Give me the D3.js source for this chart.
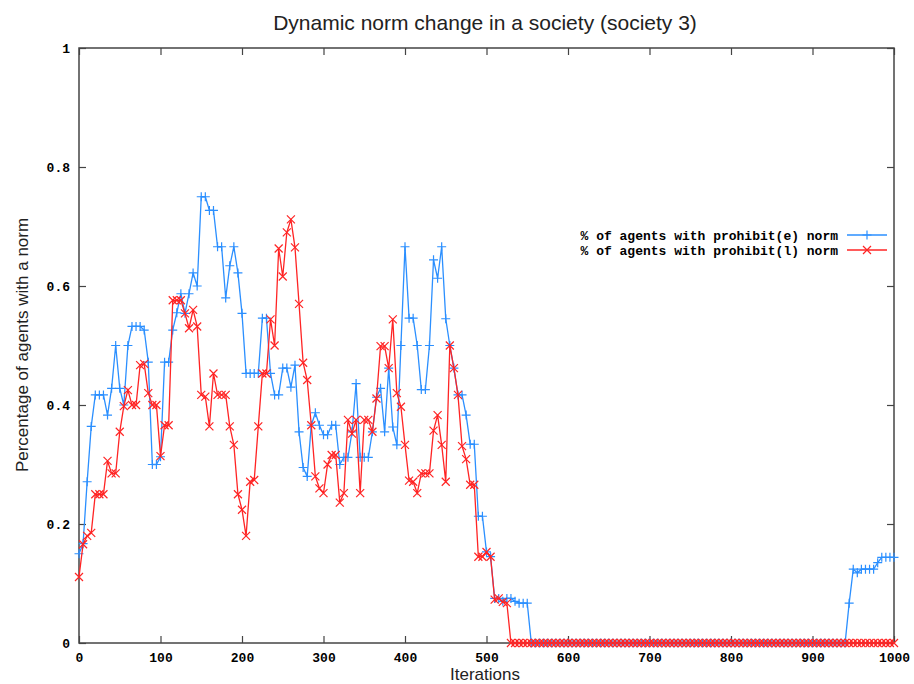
<!DOCTYPE html>
<html>
<head>
<meta charset="utf-8">
<script src="https://cdn.jsdelivr.net/npm/d3@7"></script>
<style>
  body { margin: 0; background: #fff; }
  svg { display: block; }
  .tick text { font-family: "Liberation Mono", "DejaVu Sans Mono", monospace; font-weight: bold; font-size: 13px; fill: #000; }
  .label { font-family: "Liberation Sans", Arial, sans-serif; fill: #222; }
</style>
</head>
<body>
<div id="chart"></div>
<script>
// iterations sampled every 5 steps, 0..1000
const iterations = d3.range(0, 1001, 5);

// % of agents with prohibit(e) norm
const prohibitE = [
  0.15, 0.167, 0.271, 0.364, 0.417, 0.417, 0.417, 0.383, 0.428, 0.5,
  0.428, 0.4, 0.5, 0.532, 0.532, 0.532, 0.526, 0.472, 0.3, 0.3,
  0.313, 0.472, 0.472, 0.526, 0.555, 0.587, 0.554, 0.587, 0.622, 0.6,
  0.75, 0.75, 0.727, 0.727, 0.666, 0.666, 0.58, 0.634, 0.666, 0.622,
  0.554, 0.453, 0.453, 0.453, 0.453, 0.546, 0.546, 0.453, 0.417, 0.417,
  0.462, 0.462, 0.43, 0.467, 0.355, 0.295, 0.28, 0.366, 0.387, 0.366,
  0.35, 0.35, 0.366, 0.366, 0.3, 0.312, 0.312, 0.355, 0.436, 0.312,
  0.312, 0.312, 0.355, 0.413, 0.428, 0.355, 0.462, 0.363, 0.333, 0.5,
  0.666, 0.546, 0.546, 0.5, 0.426, 0.426, 0.5, 0.644, 0.613, 0.666,
  0.545, 0.5, 0.462, 0.417, 0.417, 0.383, 0.334, 0.334, 0.213, 0.213,
  0.153, 0.145, 0.075, 0.075, 0.07, 0.075, 0.075, 0.07, 0.067, 0.067,
  0.067, 0, 0, 0, 0, 0, 0, 0, 0, 0,
  0, 0, 0, 0, 0, 0, 0, 0, 0, 0,
  0, 0, 0, 0, 0, 0, 0, 0, 0, 0,
  0, 0, 0, 0, 0, 0, 0, 0, 0, 0,
  0, 0, 0, 0, 0, 0, 0, 0, 0, 0,
  0, 0, 0, 0, 0, 0, 0, 0, 0, 0,
  0, 0, 0, 0, 0, 0, 0, 0, 0, 0,
  0, 0, 0, 0, 0, 0, 0, 0, 0, 0.067,
  0.124, 0.118, 0.124, 0.124, 0.124, 0.124, 0.135, 0.144, 0.144, 0.144,
  0.144
];

// % of agents with prohibit(l) norm
const prohibitL = [
  0.111, 0.166, 0.18, 0.185, 0.25, 0.25, 0.25, 0.306, 0.285, 0.285,
  0.355, 0.398, 0.425, 0.4, 0.4, 0.467, 0.469, 0.42, 0.4, 0.4,
  0.314, 0.366, 0.366, 0.576, 0.576, 0.576, 0.554, 0.529, 0.56, 0.532,
  0.417, 0.414, 0.364, 0.453, 0.417, 0.417, 0.417, 0.364, 0.333, 0.25,
  0.224, 0.18, 0.271, 0.274, 0.364, 0.453, 0.453, 0.544, 0.5, 0.663,
  0.616, 0.69, 0.712, 0.665, 0.57, 0.471, 0.442, 0.366, 0.28, 0.26,
  0.252, 0.3, 0.316, 0.316, 0.236, 0.252, 0.375, 0.352, 0.375, 0.252,
  0.375, 0.375, 0.355, 0.411, 0.499, 0.499, 0.462, 0.544, 0.42, 0.397,
  0.333, 0.273, 0.271, 0.252, 0.285, 0.285, 0.285, 0.357, 0.383, 0.333,
  0.271, 0.5, 0.462, 0.417, 0.331, 0.309, 0.266, 0.266, 0.145, 0.145,
  0.153, 0.145, 0.073, 0.075, 0.069, 0.067, 0, 0, 0, 0,
  0, 0, 0, 0, 0, 0, 0, 0, 0, 0,
  0, 0, 0, 0, 0, 0, 0, 0, 0, 0,
  0, 0, 0, 0, 0, 0, 0, 0, 0, 0,
  0, 0, 0, 0, 0, 0, 0, 0, 0, 0,
  0, 0, 0, 0, 0, 0, 0, 0, 0, 0,
  0, 0, 0, 0, 0, 0, 0, 0, 0, 0,
  0, 0, 0, 0, 0, 0, 0, 0, 0, 0,
  0, 0, 0, 0, 0, 0, 0, 0, 0, 0,
  0, 0, 0, 0, 0, 0, 0, 0, 0, 0,
  0
];

const xTicks = [0, 100, 200, 300, 400, 500, 600, 700, 800, 900, 1000];
const yTicks = [0, 0.2, 0.4, 0.6, 0.8, 1];

const seriesNames = [
  "% of agents with prohibit(e) norm",
  "% of agents with prohibit(l) norm"
];

const width = 914, height = 684;
const plot = {left: 79, right: 894, top: 48, bottom: 643};
const colors = ["#2b8fff", "#ff2424"];

const svg = d3.select("#chart").append("svg")
  .attr("width", width)
  .attr("height", height);

const x = d3.scaleLinear().domain([0, 1000]).range([plot.left, plot.right]);
const y = d3.scaleLinear().domain([0, 1]).range([plot.bottom, plot.top]);

// axes, gnuplot style: ticks pointing in, mirrored on all four sides
svg.append("g")
  .attr("transform", "translate(0," + plot.bottom + ")")
  .call(d3.axisBottom(x).tickValues(xTicks).tickSize(-7).tickPadding(10).tickFormat(d => String(d)));
svg.append("g")
  .attr("transform", "translate(0," + plot.top + ")")
  .call(d3.axisTop(x).tickValues(xTicks).tickSize(-7).tickFormat(""));
svg.append("g")
  .attr("transform", "translate(" + plot.left + ",0)")
  .call(d3.axisLeft(y).tickValues(yTicks).tickSize(-7).tickPadding(9).tickFormat(d => String(d)));
svg.append("g")
  .attr("transform", "translate(" + plot.right + ",0)")
  .call(d3.axisRight(y).tickValues(yTicks).tickSize(-7).tickFormat(""));

svg.selectAll(".domain").remove();
svg.selectAll(".tick line").attr("stroke", "#444").attr("stroke-width", 1.2);

// frame
svg.append("rect")
  .attr("x", plot.left).attr("y", plot.top)
  .attr("width", plot.right - plot.left).attr("height", plot.bottom - plot.top)
  .attr("fill", "none")
  .attr("stroke", "#444")
  .attr("stroke-width", 1.5);

const plusPath = "M-4.5,0H4.5M0,-4.5V4.5";
const crossPath = "M-4,-4L4,4M-4,4L4,-4";
const markers = [plusPath, crossPath];

const line = d3.line()
  .x((d, i) => x(iterations[i]))
  .y(d => y(d));

[prohibitE, prohibitL].forEach((values, s) => {
  const g = svg.append("g");
  g.append("path")
    .datum(values)
    .attr("fill", "none")
    .attr("stroke", colors[s])
    .attr("stroke-width", 1.3)
    .attr("d", line);
  g.selectAll("path.pt")
    .data(values)
    .enter().append("path")
    .attr("class", "pt")
    .attr("transform", (d, i) => "translate(" + x(iterations[i]) + "," + y(d) + ")")
    .attr("d", markers[s])
    .attr("fill", "none")
    .attr("stroke", colors[s])
    .attr("stroke-width", 1.2);
});

// legend
const legend = svg.append("g");
seriesNames.forEach((name, s) => {
  const ly = 235 + s * 15;
  legend.append("text")
    .attr("x", 838).attr("y", ly)
    .attr("dy", "0.35em")
    .attr("text-anchor", "end")
    .style("font-family", "'Liberation Mono', 'DejaVu Sans Mono', monospace")
    .style("font-weight", "bold")
    .style("font-size", "13px")
    .text(name);
  legend.append("line")
    .attr("x1", 847).attr("x2", 887)
    .attr("y1", ly).attr("y2", ly)
    .attr("stroke", colors[s]).attr("stroke-width", 1.3);
  legend.append("path")
    .attr("transform", "translate(867," + ly + ")")
    .attr("d", markers[s])
    .attr("fill", "none")
    .attr("stroke", colors[s])
    .attr("stroke-width", 1.2);
});

// titles
svg.append("text")
  .attr("class", "label")
  .attr("x", 485).attr("y", 30)
  .attr("text-anchor", "middle")
  .style("font-size", "21px")
  .text("Dynamic norm change in a society (society 3)");

svg.append("text")
  .attr("class", "label")
  .attr("x", 485).attr("y", 680)
  .attr("text-anchor", "middle")
  .style("font-size", "17px")
  .text("Iterations");

svg.append("text")
  .attr("class", "label")
  .attr("transform", "translate(28,345) rotate(-90)")
  .attr("text-anchor", "middle")
  .style("font-size", "17px")
  .text("Percentage of agents with a norm");
</script>
</body>
</html>
